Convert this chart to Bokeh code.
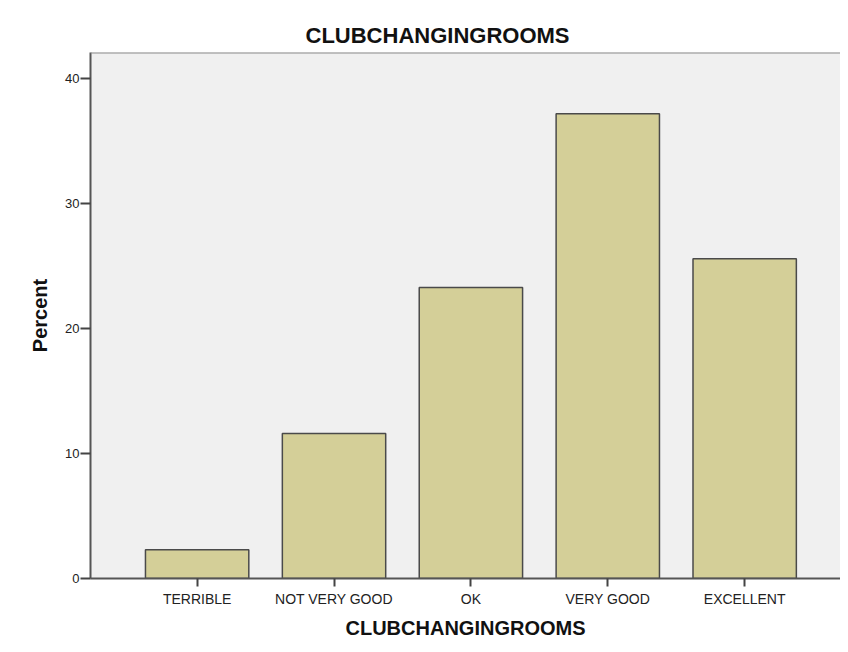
from bokeh.plotting import figure
from bokeh.models import Range1d, FixedTicker, Span
from bokeh.embed import file_html
from bokeh.resources import INLINE

categories = ["TERRIBLE", "NOT VERY GOOD", "OK", "VERY GOOD", "EXCELLENT"]
percent = [2.3, 11.6, 23.3, 37.2, 25.6]
y_ticks = [0, 10, 20, 30, 40]
title_text = "CLUBCHANGINGROOMS"
x_label = "CLUBCHANGINGROOMS"
y_label = "Percent"

xs = list(range(len(categories)))

p = figure(width=840, height=644, output_backend="svg", toolbar_location=None,
           x_range=Range1d(-0.779, 4.70), y_range=Range1d(0, 42.1),
           min_border_left=90, min_border_right=0, min_border_top=52, min_border_bottom=66)

p.title.text = title_text
p.title.align = "left"
p.title.offset = 215
p.title.text_font = "Liberation Sans"
p.title.text_font_size = "22px"
p.title.text_font_style = "bold"
p.title.text_color = "#111111"

p.background_fill_color = "#f0f0f0"
p.border_fill_color = "#ffffff"
p.outline_line_color = None
p.grid.visible = False

p.vbar(x=xs, top=percent, width=0.755, bottom=0,
       fill_color="#d4cf98", line_color="#4a4a4a", line_width=1.5)

p.add_layout(Span(location=42.1, dimension="width", line_color="#8a8a8a", line_width=2))

xa = p.xaxis[0]
xa.ticker = FixedTicker(ticks=xs)
xa.major_label_overrides = {i: c for i, c in enumerate(categories)}
xa.axis_label = x_label
ya = p.yaxis[0]
ya.ticker = FixedTicker(ticks=y_ticks)
ya.axis_label = y_label

for ax in (xa, ya):
    ax.axis_line_color = "#555555"
    ax.axis_line_width = 2
    ax.major_tick_line_color = "#444444"
    ax.major_tick_line_width = 2
    ax.major_tick_in = 0
    ax.minor_tick_line_color = None
    ax.major_label_text_font = "Liberation Sans"
    ax.major_label_text_color = "#222222"
    ax.axis_label_text_font = "Liberation Sans"
    ax.axis_label_text_font_style = "bold"
    ax.axis_label_text_color = "#111111"

xa.major_tick_out = 8
xa.major_label_standoff = 4
xa.major_label_text_font_size = "14px"
xa.axis_label_text_font_size = "20px"
xa.axis_label_standoff = 7

ya.major_tick_out = 10
ya.major_label_standoff = 1
ya.major_label_text_font_size = "13px"
ya.axis_label_text_font_size = "20px"
ya.axis_label_standoff = 11

open("out.html", "w").write(file_html(p, INLINE))
